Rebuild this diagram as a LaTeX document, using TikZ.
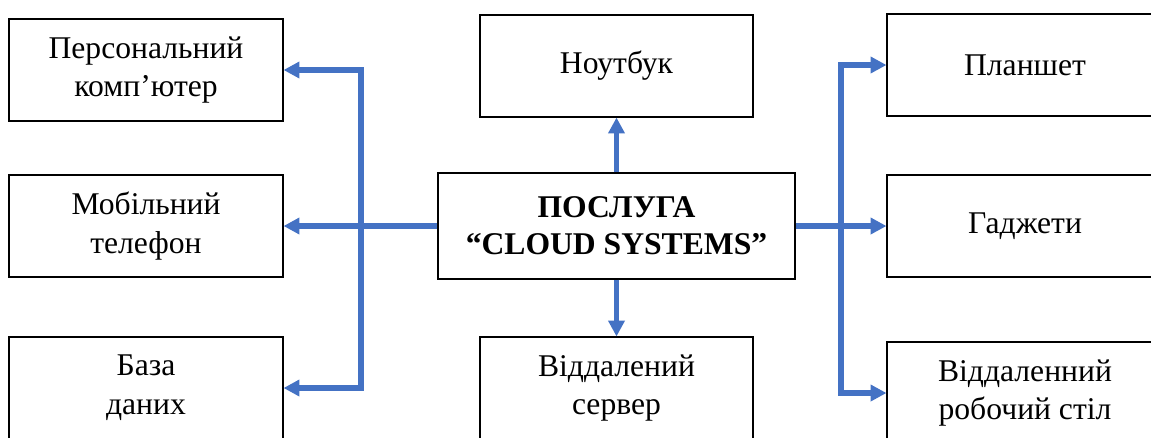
\documentclass[tikz,border=0pt]{standalone}
\usepackage{fontspec}
\setmainfont{Liberation Serif}
\usetikzlibrary{arrows.meta}
\definecolor{linkblue}{HTML}{4472C4}

\begin{document}
\begin{tikzpicture}[x=0.02cm,y=-0.02cm,
    box/.style={draw,line width=0.6pt,minimum width=274*0.02cm,minimum height=102*0.02cm,
        align=center,font=\fontsize{18}{22}\selectfont,inner sep=0pt},
    link/.style={linkblue,line width=3.4pt},
    linkarrow/.style={link,-{Triangle[length=9pt,width=9pt]}},
    linkboth/.style={link,{Triangle[length=9pt,width=9pt]}-{Triangle[length=9pt,width=9pt]}}]
            \useasboundingbox (0,0) rectangle (1151,437);
            \clip (0,0) rectangle (1151,437);
            % left column
            \node[box] (pc) at (146,70) {Персональний\\комп’ютер};
            \node[box] (phone) at (146,226) {Мобільний\\телефон};
            \node[box] (db) at (146,388) {База\\даних};
            % middle column
            \node[box,minimum width=273*0.02cm] (laptop) at (616.5,66) {Ноутбук};
            \node[box,minimum width=357*0.02cm,minimum height=106*0.02cm,font=\fontsize{18}{21}\selectfont\bfseries] (cloud) at (616.5,226) {ПОСЛУГА\\“CLOUD SYSTEMS”};
            \node[box,minimum width=273*0.02cm] (server) at (616.5,388) {Віддалений\\сервер};
            % right column
            \node[box,minimum width=276*0.02cm] (tablet) at (1025,65) {Планшет};
            \node[box,minimum width=276*0.02cm] (gadget) at (1025,226) {Гаджети};
            \node[box,minimum width=276*0.02cm] (desk) at (1025,393) {Віддаленний\\робочий стіл};
            % bus lines
            \coordinate (lbus) at (361,226);
            \coordinate (rbus) at (841,226);
            \draw[linkboth] (pc.east) -- (lbus |- pc.east) -- (lbus |- db.east) -- (db.east);
            \draw[linkboth] (tablet.west) -- (rbus |- tablet.west) -- (rbus |- desk.west) -- (desk.west);
            \draw[link] (cloud.west) -- (lbus);
            \draw[link] (cloud.east) -- (rbus);
            % arrows
            \draw[linkarrow] (lbus) -- (phone.east);
            \draw[linkarrow] (rbus) -- (gadget.west);
            \draw[linkarrow] (cloud.north) -- (laptop.south);
            \draw[linkarrow] (cloud.south) -- (server.north);
        \end{tikzpicture}
\end{document}
